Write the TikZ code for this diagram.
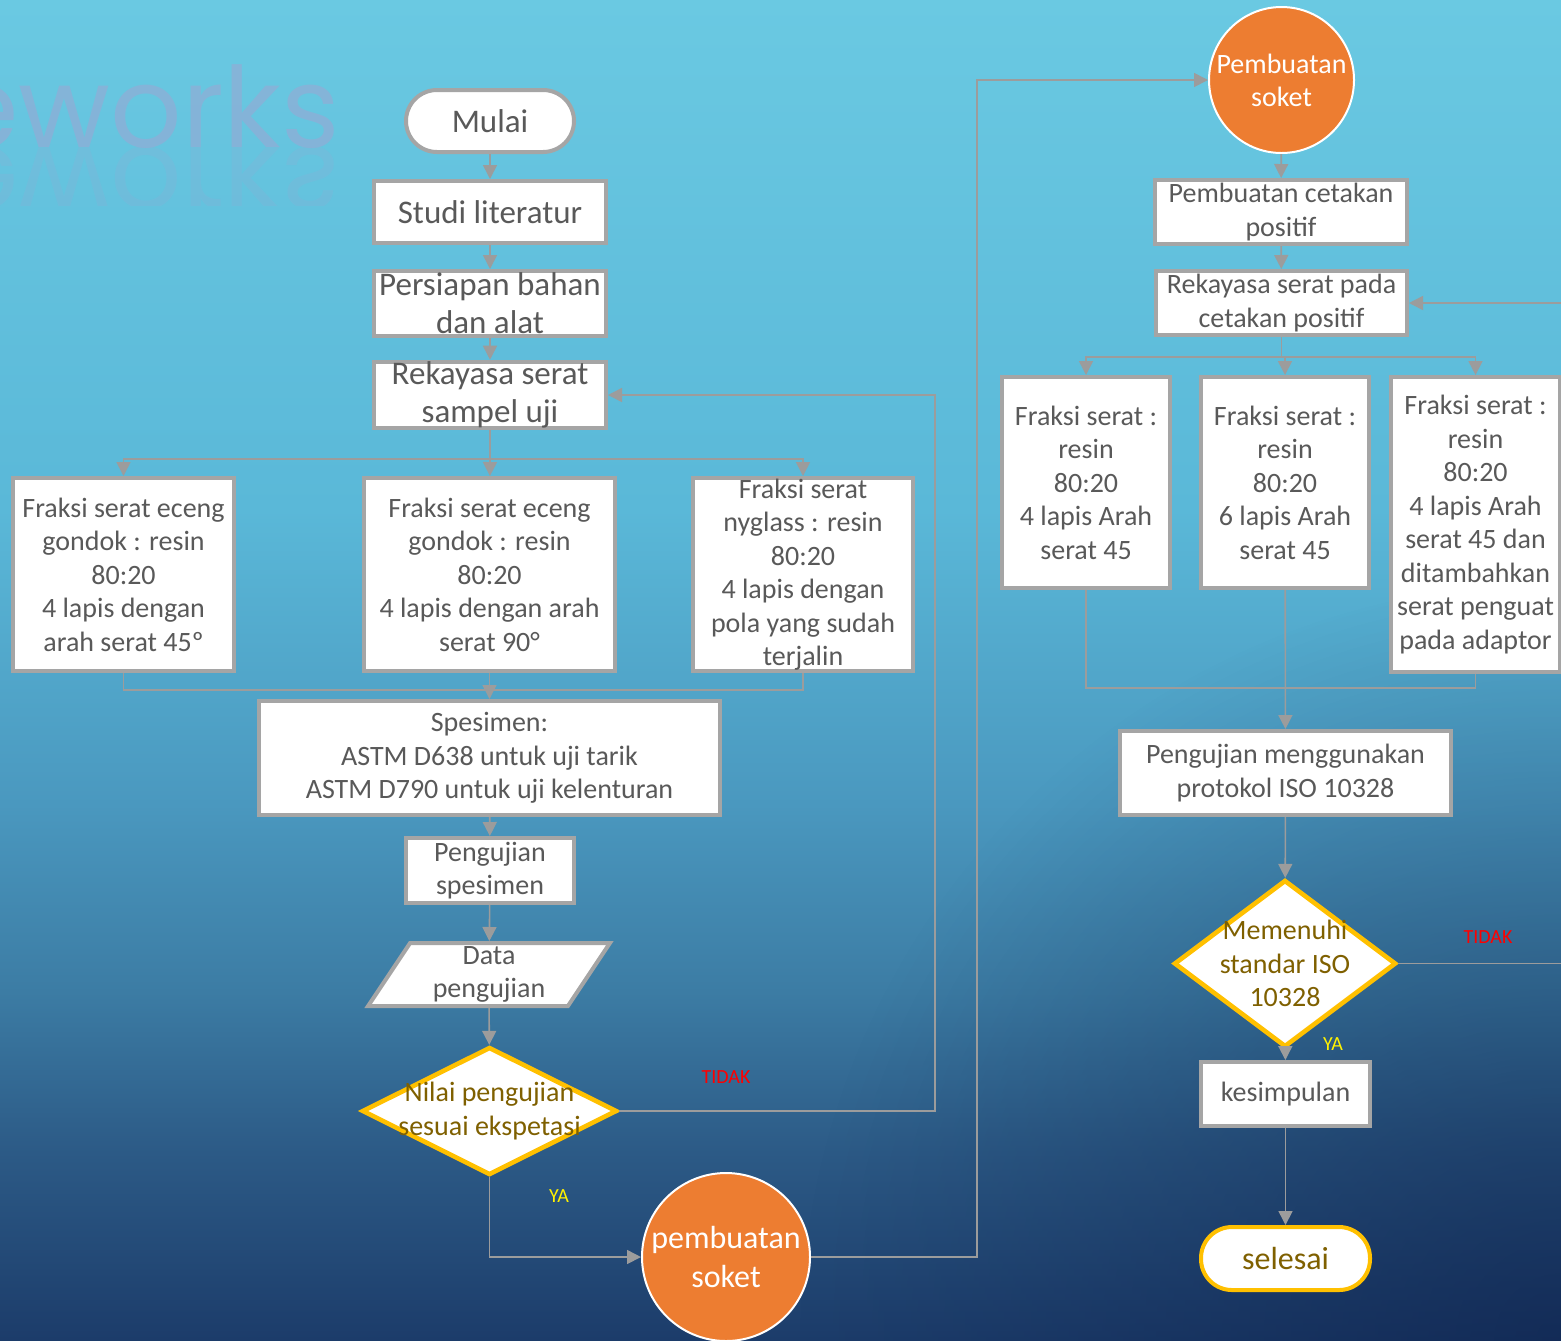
\documentclass[tikz,border=0pt]{standalone}
\usepackage{fontspec}
\setmainfont{Carlito}
\newfontfamily\wmfont{Poppins}
\usetikzlibrary{arrows.meta, shapes.geometric, fadings}

\definecolor{bg0}{HTML}{6AC9E2}
\definecolor{bg1}{HTML}{5AB8D8}
\definecolor{bg2}{HTML}{4A98BF}
\definecolor{bg3}{HTML}{3C7CA4}
\definecolor{bg4}{HTML}{2C5A86}
\definecolor{bg5}{HTML}{1C3C6A}
\definecolor{navy}{HTML}{0C1E48}
\definecolor{boxgray}{HTML}{A5A5A5}
\definecolor{lngray}{HTML}{9C9C9C}
\definecolor{txtgray}{HTML}{595959}
\definecolor{gold}{HTML}{FFC000}
\definecolor{olive}{HTML}{7F6000}
\definecolor{orng}{HTML}{ED7D31}
\definecolor{wmcol}{HTML}{8FAED6}
\pgfdeclareverticalshading{bgfade}{100bp}{color(0bp)=(bg5); color(25bp)=(bg5); color(32bp)=(bg4); color(38bp)=(bg3); color(45bp)=(bg2); color(56bp)=(bg1); color(75bp)=(bg0); color(100bp)=(bg0)}
\tikzfading[name=cornerfade, inner color=transparent!0, outer color=transparent!100]

\begin{document}
\begin{tikzpicture}[x=0.5pt, y=-0.5pt, >={Triangle[length=7pt,width=7pt]},
  proc/.style={draw=boxgray, line width=2pt, fill=white, text=txtgray, align=center, inner sep=0pt, font=\fontsize{14}{16.75}\selectfont},
  big/.style={font=\fontsize{16.5}{19}\selectfont},
  term/.style={proc, big, rounded corners=15.5pt},
  dec/.style={diamond, draw=gold, line width=2.3pt, fill=white, inner sep=0pt},
  dtext/.style={text=olive, align=center, font=\fontsize{14}{16.75}\selectfont},
  soket/.style={ellipse, draw=white, line width=1pt, fill=orng, inner sep=0pt},
  stext/.style={text=white, align=center},
  conn/.style={draw=lngray, line width=0.8pt, ->},
  link/.style={draw=lngray, line width=0.8pt},
  tidak/.style={text=red, font=\fontsize{10}{12}\selectfont},
  ya/.style={text=yellow, font=\fontsize{10}{12}\selectfont}]

\useasboundingbox (0,0) rectangle (1561,1340);
\clip (0,0) rectangle (1561,1340);
\shade[shading=bgfade] (0,0) rectangle (1561,1340);
\fill[navy, opacity=.55, path fading=cornerfade] (1561,1340) circle [radius=380pt];

% watermark
\node[anchor=base east, text=wmcol, opacity=.75, font=\wmfont\fontsize{56}{56}\selectfont] (wm) at (347,147) {eworks};
\begin{scope}
\clip (0,147) rectangle (400,205);
\begin{scope}[shift={(347,147)}, yscale=-1]
\node[transform shape, anchor=base east, text=wmcol, opacity=.25, font=\wmfont\fontsize{56}{56}\selectfont] (wmr) at (0,0) {eworks};
\end{scope}
\end{scope}

% left column
\node[term, minimum width=84pt, minimum height=31pt] (mulai) at (490,121) {Mulai};
\node[proc, big, minimum width=116pt, minimum height=31pt] (studi) at (490,212) {Studi literatur};
\node[proc, big, minimum width=116pt, minimum height=32.5pt] (bahan) at (490,303.5) {Persiapan bahan\\dan alat};
\node[proc, big, minimum width=116pt, minimum height=32pt] (rekayasa) at (490,395) {Rekayasa serat\\sampel uji};
\node[proc, minimum width=110.5pt, minimum height=96.5pt] (fraksiA) at (123.5,574.5) {Fraksi serat eceng\\gondok : resin\\80:20\\4 lapis dengan\\arah serat 45º};
\node[proc, minimum width=125.5pt, minimum height=96.5pt] (fraksiB) at (489.5,574.5) {Fraksi serat eceng\\gondok : resin\\80:20\\4 lapis dengan arah\\serat 90°};
\node[proc, minimum width=110pt, minimum height=96.5pt] (fraksiC) at (803,574.5) {Fraksi serat\\nyglass : resin\\80:20\\4 lapis dengan\\pola yang sudah\\terjalin};
\node[proc, minimum width=230.5pt, minimum height=57pt] (spesimen) at (489.5,758) {Spesimen:\\ASTM D638 untuk uji tarik\\ASTM D790 untuk uji kelenturan};
\node[proc, minimum width=84pt, minimum height=32.5pt] (uji) at (490,870.5) {Pengujian\\spesimen};
\node[proc, trapezium, trapezium left angle=62, trapezium right angle=118, trapezium stretches=true, minimum width=121pt, minimum height=31.5pt] (data) at (489,974.5) {Data\\pengujian};
\node[dec, minimum width=127.5pt, minimum height=64pt, label={[dtext]center:Nilai pengujian\\sesuai ekspetasi}] (nilai) at (489.5,1111) {};
\node[soket, minimum width=84pt, minimum height=84pt, label={[stext, font=\fontsize{16}{19.5}\selectfont]center:pembuatan\\soket}] (soketA) at (726,1257) {};

% right column
\node[soket, minimum width=72.5pt, minimum height=73pt, label={[stext, font=\fontsize{14}{16.5}\selectfont]center:Pembuatan\\soket}] (soketB) at (1281.5,80) {};
\node[proc, minimum width=126pt, minimum height=32pt] (cetakan) at (1281,212) {Pembuatan cetakan\\positif};
\node[proc, minimum width=125.5pt, minimum height=32pt] (rekayasa2) at (1281.5,303) {Rekayasa serat pada\\cetakan positif};
\node[proc, minimum width=84pt, minimum height=105.5pt] (fraksiD) at (1086,482.5) {Fraksi serat :\\resin\\80:20\\4 lapis Arah\\serat 45};
\node[proc, minimum width=84pt, minimum height=105.5pt] (fraksiE) at (1285,482.5) {Fraksi serat :\\resin\\80:20\\6 lapis Arah\\serat 45};
\node[proc, minimum width=84.5pt, minimum height=147.5pt] (fraksiF) at (1475.5,524.5) {Fraksi serat :\\resin\\80:20\\4 lapis Arah\\serat 45 dan\\ditambahkan\\serat penguat\\pada adaptor};
\node[proc, minimum width=165.5pt, minimum height=42pt] (iso) at (1285.5,773) {Pengujian menggunakan\\protokol ISO 10328};
\node[dec, minimum width=111pt, minimum height=83.5pt, label={[dtext]center:Memenuhi\\standar ISO\\10328}] (memenuhi) at (1285,963.5) {};
\node[proc, minimum width=84.5pt, minimum height=32pt] (simpul) at (1285.5,1094) {kesimpulan};
\node[term, draw=gold, text=olive, font=\fontsize{16}{19}\selectfont, minimum width=84.5pt, minimum height=31.5pt] (selesai) at (1285.5,1258.5) {selesai};

% labels
\node[tidak] (tidak1) at (726,1077) {TIDAK};
\node[ya] (ya1) at (559,1196) {YA};
\node[tidak] (tidak2) at (1488,937) {TIDAK};
\node[ya] (ya2) at (1333,1044) {YA};

% connectors left
\draw[conn] (mulai) -- (studi);
\draw[conn] (studi) -- (bahan);
\draw[conn] (bahan) -- (rekayasa);
\coordinate (pisah) at (490,459);
\draw[link] (rekayasa) -- (pisah);
\draw[conn] (pisah) -| (fraksiA);
\draw[conn] (pisah) -- (fraksiB);
\draw[conn] (pisah) -| (fraksiC);
\coordinate (gabung) at (490,690);
\draw[link] (fraksiA) |- (gabung) -| (fraksiC);
\draw[conn] (fraksiB) -- (spesimen);
\draw[conn] (spesimen) -- (uji);
\draw[conn] (uji) -- (data);
\draw[conn] (data) -- (nilai);
\coordinate (balik) at (935,1111);
\draw[conn] (nilai.east) -- (balik) |- (rekayasa.east);
\draw[conn] (nilai.south) |- (soketA);
\coordinate (naik) at (977,1257);
\draw[conn] (soketA.east) -- (naik) |- (soketB);

% connectors right
\draw[conn] (soketB) -- (cetakan);
\draw[conn] (cetakan) -- (rekayasa2);
\coordinate (pisah2) at (1281.5,357);
\draw[link] (rekayasa2) -- (pisah2);
\draw[conn] (pisah2) -| (fraksiD);
\draw[conn] (pisah2) -| (fraksiE);
\draw[conn] (pisah2) -| (fraksiF);
\coordinate (gabung2) at (1285,688);
\draw[link] (fraksiD) |- (gabung2) -| (fraksiF);
\draw[conn] (fraksiE) -- (iso);
\draw[conn] (iso) -- (memenuhi);
\draw[conn] (memenuhi) -- (simpul);
\draw[conn] (simpul) -- (selesai);
\coordinate (balik2) at (1620,963.5);
\draw[conn] (memenuhi.east) -- (balik2) |- (rekayasa2.east);
\end{tikzpicture}
\end{document}
